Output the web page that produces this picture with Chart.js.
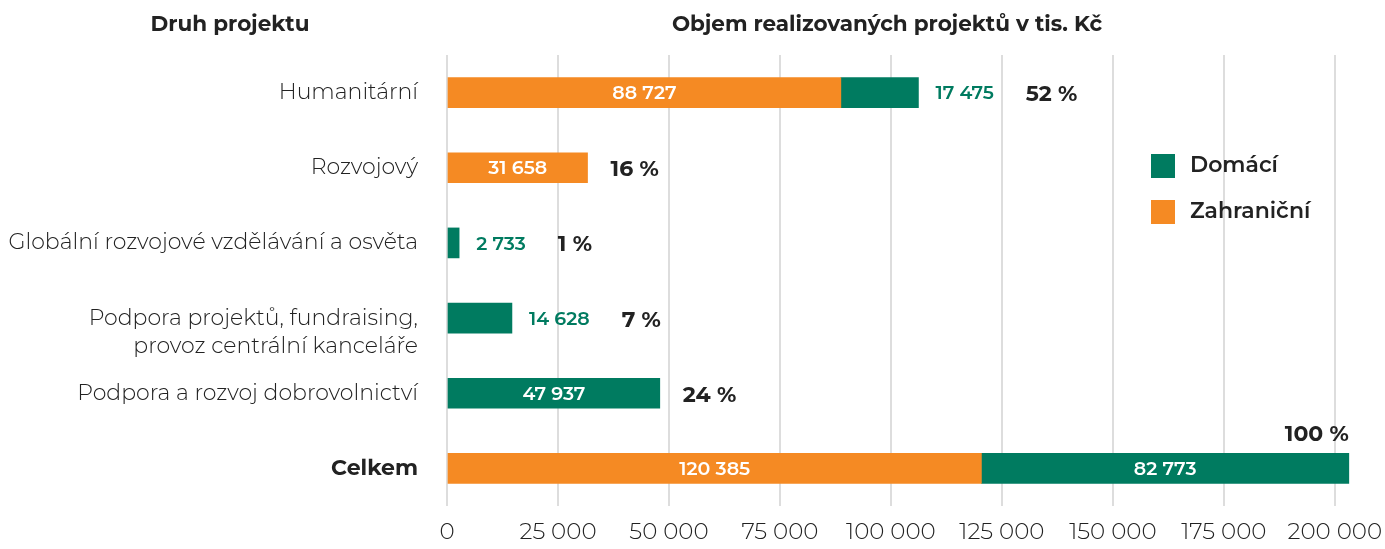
<!DOCTYPE html>
<html>
<head>
<meta charset="utf-8">
<script src="https://cdn.jsdelivr.net/npm/chart.js@4.4.1/dist/chart.umd.min.js"></script>
<style>
  html, body { margin: 0; padding: 0; background: #fff; }
  #wrap { width: 1385px; height: 549px; position: relative; }
</style>
</head>
<body>
<div id="wrap"><canvas id="c" width="1385" height="549"></canvas></div>
<script>
// ---- data ----
const categories = [
  "Humanitární",
  "Rozvojový",
  "Globální rozvojové vzdělávání a osvěta",
  ["", "Podpora projektů, fundraising,", "provoz centrální kanceláře"],
  "Podpora a rozvoj dobrovolnictví",
  "Celkem"
];
const zahranicni = [88727, 31658, null, null, null, 120385];
const domaci = [17475, null, 2733, 14628, 47937, 82773];
const percentLabels = ["52 %", "16 %", "1 %", "7 %", "24 %", "100 %"];
const xTicks = [0, 25000, 50000, 75000, 100000, 125000, 150000, 175000, 200000];
const headerLeft = "Druh projektu";
const headerRight = "Objem realizovaných projektů v tis. Kč";

const ORANGE = "#F58A23";
const GREEN = "#007B60";
const FONT = "Montserrat, Inter, 'Open Sans', sans-serif";
const fmt = v => String(v).replace(/\B(?=(\d{3})+(?!\d))/g, " ");

const labelPlugin = {
  id: "labels",
  afterDatasetsDraw(chart) {
    const ctx = chart.ctx;
    const area = chart.chartArea;
    ctx.save();
    ctx.textBaseline = "middle";
    const n = categories.length;
    for (let i = 0; i < n; i++) {
      let barEnd = area.left, outsideEnd = null, y = 0, top = 0;
      chart.data.datasets.forEach((ds, di) => {
        const v = ds.data[i];
        if (v == null) return;
        const el = chart.getDatasetMeta(di).data[i];
        y = el.y; top = el.y - el.height / 2;
        const w = Math.abs(el.x - el.base);
        barEnd = Math.max(barEnd, el.x);
        ctx.font = "600 19px " + FONT;
        const txt = fmt(v);
        if (w > 100) {
          ctx.fillStyle = "#ffffff";
          ctx.textAlign = "center";
          ctx.fillText(txt, (el.x + el.base) / 2, el.y + 1);
        } else {
          ctx.fillStyle = ds.backgroundColor;
          ctx.textAlign = "left";
          const x0 = el.x + 17;
          ctx.fillText(txt, x0, el.y + 1);
          outsideEnd = x0 + ctx.measureText(txt).width;
        }
      });
      // percent
      ctx.font = "bold 22px " + FONT;
      ctx.fillStyle = "#222222";
      const p = percentLabels[i];
      const pw = ctx.measureText(p).width;
      let px = outsideEnd != null ? outsideEnd + 32 : barEnd + 23;
      if (px + pw > area.right) {
        ctx.textAlign = "right";
        ctx.fillText(p, barEnd, top - 19);
      } else {
        ctx.textAlign = "left";
        ctx.fillText(p, px, y + 2);
      }
    }
    ctx.restore();
  },
  afterDraw(chart) {
    const ctx = chart.ctx;
    ctx.save();
    ctx.textBaseline = "middle";
    ctx.fillStyle = "#222222";
    ctx.font = "bold 21.5px " + FONT;
    ctx.textAlign = "center";
    ctx.fillText(headerLeft, 230, 25);
    ctx.fillText(headerRight, 887, 25);
    // legend: Domácí first, then Zahraniční
    const order = [1, 0];
    order.forEach((di, k) => {
      const ds = chart.data.datasets[di];
      const yy = 166 + k * 46;
      ctx.fillStyle = ds.backgroundColor;
      ctx.fillRect(1151, yy - 12, 24, 24);
      ctx.fillStyle = "#222222";
      ctx.font = "600 22px " + FONT;
      ctx.textAlign = "left";
      ctx.fillText(ds.label, 1190, yy);
    });
    ctx.restore();
  }
};

new Chart(document.getElementById("c"), {
  type: "bar",
  data: {
    labels: categories,
    datasets: [
      { label: "Zahraniční", data: zahranicni, backgroundColor: ORANGE, barThickness: 30 },
      { label: "Domácí", data: domaci, backgroundColor: GREEN, barThickness: 30 }
    ]
  },
  options: {
    indexAxis: "y",
    responsive: false,
    animation: false,
    layout: { padding: { top: 55, right: 28, bottom: 0, left: 0 } },
    plugins: { legend: { display: false }, tooltip: { enabled: false }, title: { display: false } },
    scales: {
      x: {
        stacked: true,
        min: 0,
        max: 205000,
        afterBuildTicks(scale) { scale.ticks = xTicks.map(v => ({ value: v })); },
        afterFit(scale) { scale.height = 43; scale.paddingLeft = 0; scale.paddingRight = 0; },
        border: { display: false },
        grid: { color: "#dddddd", lineWidth: 2, drawTicks: false },
        ticks: {
          padding: 12,
          color: "#222222",
          maxRotation: 0,
          autoSkip: false,
          font: { family: FONT, size: 23, weight: 300 },
          callback: v => fmt(v)
        }
      },
      y: {
        stacked: true,
        afterFit(scale) { scale.width = 447; },
        border: { display: false },
        grid: { display: false },
        ticks: {
          padding: 21,
          autoSkip: false,
          color: "#222222",
          font: ctx => ctx.index === 5
            ? { family: FONT, size: 22, weight: "bold", lineHeight: 1.3 }
            : { family: FONT, size: 22, weight: 300, lineHeight: 1.3 }
        }
      }
    }
  },
  plugins: [labelPlugin]
});
</script>
</body>
</html>
